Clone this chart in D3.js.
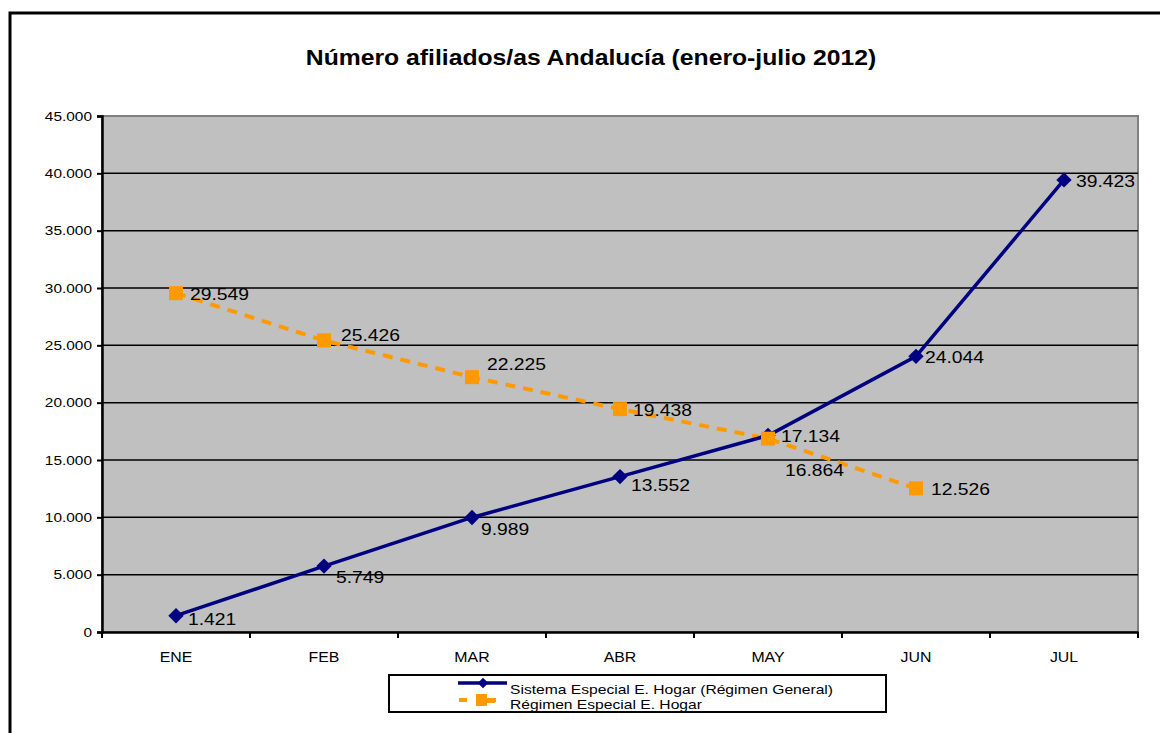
<!DOCTYPE html>
<html lang="es">
<head>
<meta charset="UTF-8">
<title>Número afiliados/as Andalucía</title>
<script src="https://d3js.org/d3.v7.min.js"></script>
<style>
  body { margin: 0; background: #fff; }
  text { font-family: Arial, 'Liberation Sans', sans-serif; }
</style>
</head>
<body>
<script>

const months = ['ENE', 'FEB', 'MAR', 'ABR', 'MAY', 'JUN', 'JUL'];
const general = [1421, 5749, 9989, 13552, 17134, 24044, 39423];
const especial = [29549, 25426, 22225, 19438, 16864, 12526];
const seriesNames = ['Sistema Especial E. Hogar (Régimen General)', 'Régimen Especial E. Hogar'];
const yTicks = [0, 5000, 10000, 15000, 20000, 25000, 30000, 35000, 40000, 45000];

// label offsets from each point (px)
const generalOff = [[12, 9], [12, 17], [9, 18], [11, 14], [13, 6], [9, 7], [12, 7]];
const especialOff = [[14, 7], [17, 1], [15, -7], [13, 7], [17, 37], [15, 7]];

const width = 1160, height = 733;
const plotL = 102, plotR = 1138, plotT = 116, plotB = 632;
const sx = 1.15; // text in the original is a little wide

const svg = d3.select('body').append('svg')
    .attr('width', width).attr('height', height);

// outer frame
svg.append('rect')
    .attr('x', 10).attr('y', 13).attr('width', 1160).attr('height', 740)
    .attr('fill', 'none').attr('stroke', '#000').attr('stroke-width', 3);

svg.append('text')
    .attr('transform', `translate(591,65) scale(${sx},1)`)
    .attr('text-anchor', 'middle')
    .style('font-size', '21.5px').style('font-weight', 'bold')
    .text('Número afiliados/as Andalucía (enero-julio 2012)');

const x = d3.scaleBand().domain(months).range([plotL, plotR]);
const y = d3.scaleLinear().domain([0, 45000]).range([plotB, plotT]);
const fmt = d3.formatLocale({decimal: ',', thousands: '.', grouping: [3]}).format(',');

svg.append('rect')
    .attr('x', plotL).attr('y', plotT).attr('width', plotR - plotL).attr('height', plotB - plotT)
    .attr('fill', '#c0c0c0').attr('stroke', '#808080').attr('stroke-width', 2);

// gridlines
svg.append('g').selectAll('line')
    .data(yTicks.filter(d => d > 0 && d < 45000))
    .join('line')
    .attr('x1', plotL).attr('x2', plotR)
    .attr('y1', d => y(d)).attr('y2', d => y(d))
    .attr('stroke', '#000').attr('stroke-width', 1.5);

// y axis
const yAxis = svg.append('g')
    .attr('transform', `translate(${plotL},0)`)
    .call(d3.axisLeft(y).tickValues(yTicks).tickFormat(fmt).tickSize(5).tickPadding(4));
yAxis.select('.domain').attr('stroke-width', 2.5);
yAxis.selectAll('.tick line').attr('stroke-width', 2);
yAxis.selectAll('text').style('font-size', '13.4px').attr('fill', '#000')
    .attr('transform', `scale(${sx},1)`).attr('x', -10 / sx);

// x axis
const xAxis = svg.append('g')
    .attr('transform', `translate(0,${plotB})`)
    .call(d3.axisBottom(x).tickSize(0).tickPadding(20));
xAxis.select('.domain').attr('stroke-width', 2.5);
xAxis.selectAll('text').style('font-size', '13.8px').attr('fill', '#000')
    .attr('transform', `scale(${sx},1)`);
xAxis.selectAll('.bnd').data(d3.range(months.length + 1)).join('line')
    .attr('x1', i => plotL + i * x.step()).attr('x2', i => plotL + i * x.step())
    .attr('y1', 0).attr('y2', 6).attr('stroke', '#000').attr('stroke-width', 2);

const cx = i => x(months[i]) + x.bandwidth() / 2;
const line = d3.line().x((d, i) => cx(i)).y(d => y(d));

// orange series
svg.append('path').datum(especial).attr('d', line)
    .attr('fill', 'none').attr('stroke', '#ff9900').attr('stroke-width', 4)
    .attr('stroke-dasharray', '10,8');
// blue series
svg.append('path').datum(general).attr('d', line)
    .attr('fill', 'none').attr('stroke', '#000080').attr('stroke-width', 3.5);

const diamond = d3.symbol().type(d3.symbolDiamond2).size(150);
svg.append('g').selectAll('path').data(general).join('path')
    .attr('d', diamond)
    .attr('transform', (d, i) => `translate(${cx(i)},${y(d)})`)
    .attr('fill', '#000080');
svg.append('g').selectAll('rect').data(especial).join('rect')
    .attr('x', (d, i) => cx(i) - 7).attr('y', d => y(d) - 7)
    .attr('width', 14).attr('height', 14)
    .attr('fill', '#ff9900');

svg.append('g').selectAll('text').data(general).join('text')
    .attr('transform', (d, i) =>
        `translate(${cx(i) + generalOff[i][0]},${y(d) + generalOff[i][1]}) scale(${sx},1)`)
    .style('font-size', '16.8px').text(d => fmt(d));
svg.append('g').selectAll('text').data(especial).join('text')
    .attr('transform', (d, i) =>
        `translate(${cx(i) + especialOff[i][0]},${y(d) + especialOff[i][1]}) scale(${sx},1)`)
    .style('font-size', '16.8px').text(d => fmt(d));

// legend
const lg = svg.append('g');
lg.append('rect')
    .attr('x', 389).attr('y', 675).attr('width', 497).attr('height', 37)
    .attr('fill', '#fff').attr('stroke', '#000').attr('stroke-width', 2);
lg.append('line').attr('x1', 458).attr('x2', 507).attr('y1', 683).attr('y2', 683)
    .attr('stroke', '#000080').attr('stroke-width', 3.5);
lg.append('path').attr('d', d3.symbol().type(d3.symbolDiamond2).size(70))
    .attr('transform', 'translate(483,683)').attr('fill', '#000080');
lg.append('line').attr('x1', 459).attr('x2', 496).attr('y1', 700).attr('y2', 700)
    .attr('stroke', '#ff9900').attr('stroke-width', 4).attr('stroke-dasharray', '8,9');
lg.append('rect').attr('x', 476).attr('y', 694).attr('width', 11).attr('height', 12)
    .attr('fill', '#ff9900');
lg.append('rect').attr('x', 486).attr('y', 698).attr('width', 9).attr('height', 5)
    .attr('fill', '#ff9900');
svg.append('clipPath').attr('id', 'lgclip')
    .append('rect').attr('x', 389).attr('y', 675).attr('width', 497).attr('height', 36);
const lgText = lg.append('g').attr('clip-path', 'url(#lgclip)');
lgText.selectAll('text').data(seriesNames).join('text')
    .attr('transform', (d, i) => `translate(510,${694 + i * 15}) scale(${sx},1)`)
    .style('font-size', '13.6px').text(d => d);

</script>
</body>
</html>
